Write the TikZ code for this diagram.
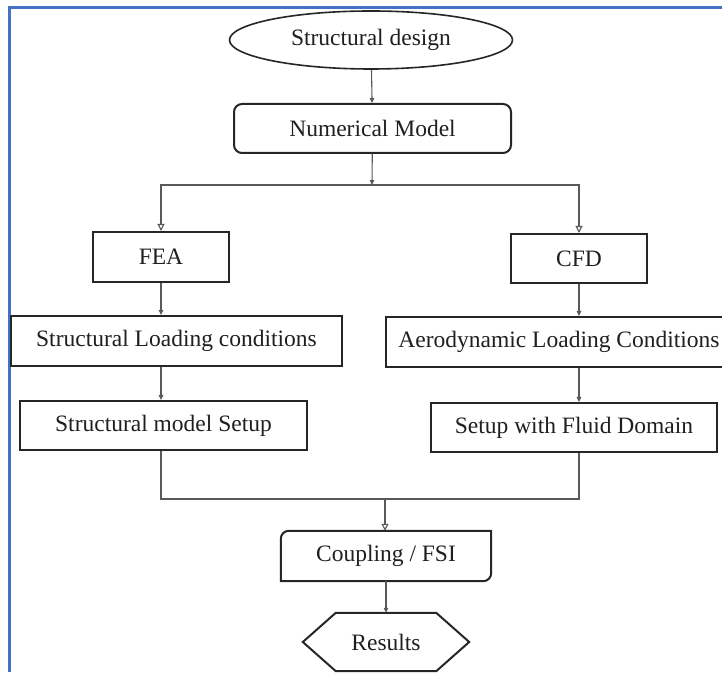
\documentclass[tikz,border=0pt]{standalone}
\usepackage{fontspec}
\setmainfont{Liberation Serif}
\usepackage{xcolor}
\usepackage{tikz}
\usetikzlibrary{
  arrows.meta,
  positioning,
  shapes.geometric
}
\definecolor{framecol}{HTML}{4472C4}
\definecolor{linecol}{HTML}{595959}
\definecolor{boxcol}{HTML}{262626}

\begin{document}
\begin{tikzpicture}[
  x=1pt, y=1pt,
  font=\fontsize{23.5}{28}\selectfont,
  every node/.style={inner sep=0pt, text=black!88},
  box/.style={rectangle, draw=boxcol, line width=2pt, minimum height=49pt},
  roundbox/.style={box, rounded corners=8pt},
  outline/.style={draw=boxcol, line width=2pt},
  startnode/.style={ellipse, draw=boxcol, line width=1.6pt, minimum width=283pt, minimum height=58pt},
  link/.style={draw=linecol, line width=1.1pt, -{Triangle[length=5pt,width=4.5pt]}},
  splitlink/.style={draw=linecol, line width=1.1pt, -{Triangle[open,length=7pt,width=7pt]}},
  joinline/.style={draw=linecol, line width=1.1pt},
  frameline/.style={draw=framecol, line width=3pt}
]
\useasboundingbox (0,0) rectangle (722,672);
\draw[frameline] (9,0) -- (9,664) -- (722,664);

\node[startnode] (structural-design) at (371,632) {Structural design};
\node[roundbox, minimum width=277pt] (numerical-model) at (372.5,543.5) {Numerical Model};
\coordinate (split) at (372,487);

% left branch
\node[box, minimum width=136pt, minimum height=50pt] (fea) at (161,415) {FEA};
\node[box, minimum width=331pt, minimum height=50pt] (structural-loading) at (176.5,331) {Structural Loading conditions};
\node[box, minimum width=287pt] (structural-setup) at (163.5,246.5) {Structural model Setup};

% right branch
\node[box, minimum width=136pt] (cfd) at (579,413.5) {CFD};
\node[box, minimum width=346pt, minimum height=50pt] (aero-loading) at (559,330) {Aerodynamic Loading Conditions};
\node[box, minimum width=286pt] (fluid-setup) at (574,244.5) {Setup with Fluid Domain};

\coordinate (join) at (385,173);
\node[minimum width=210pt, minimum height=50pt] (coupling) at (386,116) {Coupling / FSI};
\draw[outline] (coupling.south west) -- ([yshift=-8pt]coupling.north west)
  arc[start angle=180, end angle=90, radius=8pt] -- (coupling.north east)
  -- ([yshift=8pt]coupling.south east) arc[start angle=0, end angle=-90, radius=8pt] -- cycle;
\node[minimum width=100pt, minimum height=58pt] (results) at (386,30) {Results};
\draw[outline] (results.north west) -- (results.north east) -- ([xshift=33pt]results.east)
  -- (results.south east) -- (results.south west) -- ([xshift=-33pt]results.west) -- cycle;

\draw[link] (structural-design) -- (numerical-model);
\draw[link] (numerical-model) -- (split);
\draw[splitlink] (split) -| (fea);
\draw[splitlink] (split) -| (cfd);
\draw[link] (fea.south) -- (fea.south |- structural-loading.north);
\draw[link] (structural-loading.south -| fea.south) -- (fea.south |- structural-setup.north);
\draw[link] (cfd.south) -- (cfd.south |- aero-loading.north);
\draw[link] (aero-loading.south -| cfd.south) -- (cfd.south |- fluid-setup.north);
\draw[joinline] (structural-setup.south -| fea.south) |- (join) -| (fluid-setup.south -| cfd.south);
\draw[splitlink] (join) -- (join |- coupling.north);
\draw[link] (coupling) -- (results);
\end{tikzpicture}
\end{document}
